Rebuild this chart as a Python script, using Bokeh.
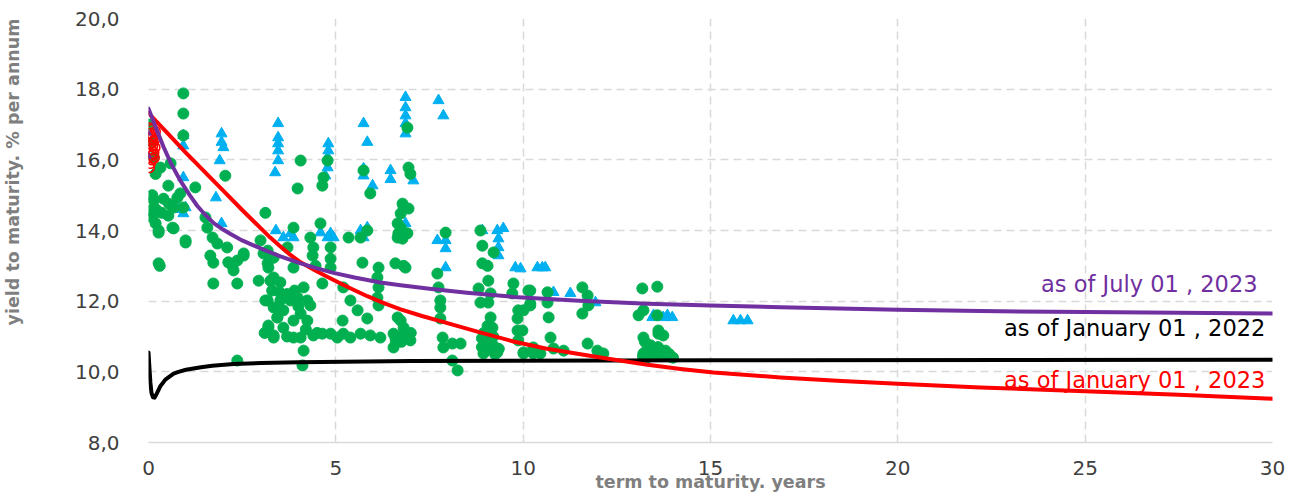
from bokeh.plotting import figure
from bokeh.models import Label, CustomJSTickFormatter, FixedTicker, Range1d, Title
from bokeh.embed import file_html
from bokeh.resources import INLINE

# ---------------- data ----------------
green_x = [0.93, 0.93, 0.93, 0.05, 0.1, 0.14, 0.32, 0.19, 0.59, 0.53, 1.25, 2.05,
           0.1, 0.14, 0.05, 0.1, 0.19, 0.27, 0.77, 0.67, 0.53, 0.64, 0.93, 0.85,
           0.99, 0.27, 0.3, 1.52, 1.57, 1.71, 1.84, 1.65, 2.1, 1.73,
           2.24, 2.37, 2.54, 3.12, 2.99, 3.07, 3.2, 3.34,
           0.27, 0.67, 0.99, 1.73, 2.13, 2.27, 2.37, 2.54,
           2.94, 3.26, 3.12, 3.34, 3.44, 3.2, 3.34, 2.37,
           4.06, 3.98, 4.78, 4.67, 4.64, 5.74, 5.92,
           3.87, 4.59, 4.32, 4.4, 4.38, 4.86, 4.86, 4.86, 4.64, 4.46,
           3.18, 3.18, 3.34, 3.71, 3.87, 3.26, 3.52, 3.18, 4.14,
           3.52, 3.79, 3.98, 4.24, 4.32, 3.6, 3.44, 4.06, 3.87, 4.24, 3.6, 3.2, 3.34, 3.87,
           4.06, 4.4, 4.64, 4.86, 5.04, 5.2, 5.39, 5.66, 5.92, 6.19, 6.54, 6.81,
           4.14, 4.11, 5.18, 5.39, 5.58, 5.84, 5.2,
           5.34, 5.66, 5.84, 5.71,
           6.14, 6.11, 6.14, 6.11, 6.14,
           6.59, 6.81, 6.65, 6.73, 6.81, 6.73, 6.91, 6.65, 6.81,
           6.94, 6.99, 6.78, 6.94, 6.65, 6.67, 6.91, 6.78, 6.86,
           6.73, 6.81, 6.59, 6.99, 6.54, 6.6, 6.75, 6.95, 7.0,
           7.93, 7.71, 7.74, 7.79, 7.79, 7.79, 7.85, 7.87, 8.11, 8.33, 8.11, 8.25,
           8.86, 8.91, 9.21, 8.91, 9.05, 9.07, 8.81, 9.13, 9.07, 8.86, 9.13, 9.18, 9.05, 9.13, 8.94, 9.31,
           8.9, 9.0, 9.2, 9.1, 8.95, 9.25, 9.35,
           9.74, 9.71, 10.19, 10.19, 9.87, 9.85, 9.85, 9.87, 10.01, 10.27,
           10.14, 10.19, 10.65, 10.65, 10.68, 10.73, 10.01, 9.98,
           10.01, 10.27, 10.46, 10.81, 11.08,
           11.58, 11.72, 11.74, 11.58, 11.72, 11.98, 12.14,
           13.18, 13.58, 13.08, 13.21, 13.58, 13.21, 13.61, 13.74, 13.34, 13.66, 13.85, 13.48, 13.21,
           13.21, 13.74, 14.0, 13.61,
           13.2, 13.3, 13.45, 13.55, 13.7, 13.85, 13.95, 13.4, 13.6, 13.25,
           3.3, 3.5, 3.7, 3.9, 4.0, 3.7, 4.5, 3.1, 4.2,
           0.2, 0.35, 0.4, 0.55,
           13.3, 13.5, 13.8, 13.9,
           9.0, 9.2, 9.05, 8.9]
green_y = [17.88, 17.31, 16.69, 17.0, 16.5, 16.07, 15.78, 15.6, 15.9, 15.27, 15.22, 15.55,
           15.0, 14.85, 14.57, 14.37, 14.2, 14.0, 14.93, 14.65, 14.42, 14.08, 14.65, 15.05,
           13.66, 13.07, 13.0, 14.37, 14.08, 13.8, 13.63, 13.29, 13.52, 13.09,
           13.0, 13.15, 13.29, 14.5, 13.72, 13.35, 12.95, 12.67,
           13.94, 14.06, 13.72, 12.5, 13.1, 12.87, 12.5, 13.35,
           12.58, 12.58, 12.02, 11.82, 11.54, 11.31, 11.03, 10.32,
           15.98, 15.19, 15.98, 15.5, 15.27, 15.7, 15.05,
           14.08, 14.2, 13.8, 13.52, 13.29, 13.52, 13.2, 12.95, 12.5, 13.0,
           13.43, 13.07, 13.23, 13.52, 12.95, 12.58, 12.53, 12.02, 12.39,
           12.02, 12.02, 12.1, 12.02, 11.88, 11.74, 11.54, 11.65, 11.45, 11.45, 11.25, 11.25, 10.97, 10.97,
           10.97, 11.03, 11.08, 11.08, 10.97, 11.08, 10.97, 11.08, 11.03, 10.97, 11.08, 10.97,
           10.6, 10.18, 11.45, 12.02, 11.74, 11.51, 12.39,
           13.8, 13.8, 14.0, 13.09,
           12.95, 12.67, 12.39, 12.1, 11.88,
           13.07, 13.0, 13.8, 14.08, 14.65, 14.48, 16.91, 11.54, 11.25,
           15.78, 15.6, 14.76, 14.62, 14.2, 13.92, 13.92, 13.77, 12.95,
           11.45, 11.08, 10.97, 10.89, 10.69, 10.85, 10.85, 10.95, 11.1,
           13.94, 12.78, 12.39, 12.02, 11.82, 11.51, 10.97, 10.69, 10.8, 10.8, 10.32, 10.04,
           14.0, 13.57, 13.38, 13.07, 13.0, 12.58, 12.36, 12.22, 11.96, 11.96, 11.54, 11.25, 10.97, 10.69, 10.52, 10.55,
           10.7, 10.6, 10.75, 10.9, 11.1, 10.5, 10.65,
           12.5, 12.22, 12.3, 11.93, 11.74, 11.51, 11.17, 10.89, 10.55, 10.52,
           12.3, 11.88, 12.25, 11.96, 11.54, 10.97, 11.74, 11.17,
           10.52, 10.69, 10.52, 10.66, 10.6,
           12.39, 12.16, 11.88, 11.65, 10.8, 10.6, 10.52,
           12.36, 12.41, 11.6, 11.74, 11.6, 10.97, 11.08, 11.03, 10.69, 10.6, 10.52, 10.46, 10.52,
           10.4, 10.52, 10.4, 11.17,
           10.45, 10.6, 10.55, 10.45, 10.5, 10.45, 10.42, 10.75, 10.7, 10.85,
           12.3, 12.25, 12.2, 12.3, 11.85, 11.0, 11.1, 11.1, 11.2,
           14.6, 14.5, 14.9, 14.75,
           10.4, 10.65, 10.6, 10.5,
           10.8, 11.0, 11.3, 10.95]

blue_x = [0.93, 0.93, 0.93, 0.99, 0.93, 0.8,
          1.95, 1.95, 2.0, 1.9, 1.8, 1.95,
          3.46, 3.46, 3.46, 3.46, 3.46, 3.38,
          3.4, 3.79, 3.87, 3.6,
          4.8, 4.8, 4.78, 4.78, 4.72,
          4.86, 4.78, 4.94, 4.59,
          5.74, 5.84, 5.74, 5.74, 5.98,
          6.46, 6.46, 7.07, 6.86,
          5.66, 5.84, 5.74,
          6.86, 6.86, 6.86, 6.86, 6.86,
          7.74, 7.87,
          7.71, 7.93, 7.93, 7.93,
          8.91, 9.31, 9.47, 9.34, 9.34, 9.34,
          9.79, 10.38, 10.51, 10.59, 9.93,
          10.81, 11.26, 11.93,
          13.48, 13.85, 13.45, 13.74, 13.98,
          15.61, 15.8, 15.99]
blue_y = [16.69, 16.4, 15.5, 14.65, 14.48, 14.6,
          16.74, 16.5, 16.35, 15.98, 14.93, 14.2,
          17.03, 16.63, 16.46, 16.26, 15.98, 15.64,
          14.0, 13.92, 13.8, 13.8,
          16.46, 16.26, 16.07, 15.78, 15.55,
          13.92, 13.8, 13.8, 13.94,
          17.03, 16.5, 15.75, 15.55, 15.27,
          15.7, 15.45, 15.41, 14.2,
          14.0, 14.08, 13.8,
          17.77, 17.48, 17.25, 17.03, 16.74,
          17.68, 17.25,
          13.72, 13.72, 13.49, 12.95,
          14.0, 14.0, 14.06, 13.77, 13.52, 13.29,
          12.95, 12.95, 12.95, 12.95, 12.92,
          12.25, 12.22, 11.96,
          11.6, 11.6, 11.54, 11.54, 11.54,
          11.45, 11.45, 11.45]

red_pts_x = [0.03, 0.05, 0.08, 0.1, 0.12, 0.15, 0.18, 0.04, 0.07, 0.11, 0.14, 0.17,
             0.06, 0.09, 0.13, 0.05, 0.1, 0.15, 0.08, 0.02]
red_pts_y = [16.9, 16.75, 16.85, 16.6, 16.7, 16.55, 16.8, 16.45, 16.3, 16.4, 16.2, 16.35,
             16.1, 16.0, 16.15, 15.9, 16.5, 16.05, 16.65, 15.78]

purple_pts_x = [0.0, 0.0]
purple_pts_y = [16.75, 16.1]

jul2023_x = [0, 0.2, 0.4, 0.6, 0.85, 1.1, 1.3, 1.5, 1.74, 2.0, 2.19, 2.5, 2.8, 3.07, 3.52,
             4.06, 4.5, 4.94, 5.5, 6.19, 6.73, 7.5, 8.5, 9.74, 11.5, 13.32, 15.0, 16.87,
             20.0, 22.2, 25.0, 30.0]
jul2023_y = [17.45, 16.9, 16.37, 15.9, 15.41, 15.0, 14.7, 14.46, 14.21, 14.02, 13.9, 13.72,
             13.58, 13.46, 13.27, 13.07, 12.93, 12.8, 12.67, 12.53, 12.45, 12.35, 12.24, 12.12,
             12.01, 11.93, 11.88, 11.83, 11.76, 11.72, 11.69, 11.65]

jan2023_x = [0, 0.5, 1.0, 1.5, 2.0, 2.5, 3.0, 3.25, 3.52, 3.75, 4.06, 4.5, 4.94, 5.4, 5.84,
             6.3, 6.73, 7.3, 8.0, 8.8, 9.74, 10.6, 11.53, 12.4, 13.32, 14.2, 15.08, 16.87,
             18.5, 20.0, 22.2, 25.0, 27.5, 30.0]
jan2023_y = [17.32, 16.76, 16.2, 15.66, 15.12, 14.58, 14.06, 13.8, 13.55, 13.34, 13.1, 12.84,
             12.6, 12.36, 12.14, 11.94, 11.77, 11.58, 11.37, 11.13, 10.86, 10.66, 10.5, 10.35,
             10.2, 10.08, 9.98, 9.84, 9.74, 9.66, 9.56, 9.45, 9.35, 9.24]

jan2022_x = [0, 0.02, 0.05, 0.08, 0.12, 0.16, 0.22, 0.32, 0.45, 0.67, 0.8, 1.0, 1.4, 1.7,
             2.27, 3.0, 4.0, 7.0, 15.0, 30.0]
jan2022_y = [10.55, 10.2, 9.7, 9.4, 9.28, 9.27, 9.38, 9.6, 9.78, 9.95, 10.0, 10.06, 10.13,
             10.17, 10.22, 10.25, 10.27, 10.31, 10.33, 10.34]

x_ticks = [0, 5, 10, 15, 20, 25, 30]
y_ticks = [8, 10, 12, 14, 16, 18, 20]

label_jul2023 = "as of July 01 , 2023"
label_jan2022 = "as of January 01 , 2022"
label_jan2023 = "as of January 01 , 2023"
x_title = "term to maturity. years"
y_title = "yield to maturity. % per annum"

# ---------------- figure ----------------
FONT = "DejaVu Sans"
p = figure(width=1296, height=496, output_backend="svg", toolbar_location=None,
           x_range=Range1d(0, 30), y_range=Range1d(8, 20),
           min_border_left=148, min_border_right=24, min_border_top=18, min_border_bottom=54)
p.outline_line_color = None
p.background_fill_color = "white"
p.border_fill_color = "white"

for ax in (p.xaxis[0], p.yaxis[0]):
    ax.major_tick_line_color = None
    ax.minor_tick_line_color = None
    ax.major_label_text_font = FONT
    ax.major_label_text_font_size = "20px"
    ax.major_label_text_color = "#404040"
p.xaxis[0].ticker = FixedTicker(ticks=x_ticks)
p.yaxis[0].ticker = FixedTicker(ticks=y_ticks)
p.yaxis[0].formatter = CustomJSTickFormatter(code="return tick.toFixed(1).replace('.', ',');")
p.yaxis[0].axis_line_color = None
p.xaxis[0].axis_line_color = "#d9d9d9"
p.xaxis[0].axis_line_width = 1.5
p.yaxis[0].major_label_standoff = 23
p.xaxis[0].major_label_standoff = 12

p.xaxis[0].axis_label = x_title
p.xaxis[0].axis_label_text_font = FONT
p.xaxis[0].axis_label_text_font_style = "bold"
p.xaxis[0].axis_label_text_font_size = "17.5px"
p.xaxis[0].axis_label_text_color = "#7f7f7f"
p.xaxis[0].axis_label_standoff = -6

for g in (p.xgrid[0], p.ygrid[0]):
    g.grid_line_color = "#d9d9d9"
    g.grid_line_dash = "8 5"
    g.grid_line_width = 1.5
p.xgrid[0].ticker = FixedTicker(ticks=x_ticks)
p.ygrid[0].ticker = FixedTicker(ticks=y_ticks)

# spacer + vertical title on the left, top-aligned with the frame
p.add_layout(Title(text=" ", text_font_size="10px", standoff=36), "left")
p.add_layout(Title(text=y_title, align="right", offset=0, standoff=0, text_font=FONT,
                   text_font_style="bold", text_font_size="17.5px", text_color="#7f7f7f"), "left")

p.scatter(blue_x, blue_y, marker="triangle", size=11, fill_color="#00b0f0", line_color="#00b0f0")
p.scatter(green_x, green_y, marker="circle", size=11, fill_color="#00b050", line_color="#00b050")
p.scatter(red_pts_x, red_pts_y, marker="circle", size=10, fill_color=None, line_color="#ff0000", line_width=1.5)
p.scatter(purple_pts_x, purple_pts_y, marker="triangle", size=6, fill_color="#7030a0", line_color="#7030a0")

p.line(jan2022_x, jan2022_y, line_color="#000000", line_width=4, line_cap="round", line_join="round")
p.line(jan2023_x, jan2023_y, line_color="#ff0000", line_width=4, line_cap="round", line_join="round")
p.line(jul2023_x, jul2023_y, line_color="#7030a0", line_width=4, line_cap="round", line_join="round")

p.add_layout(Label(x=29.6, y=12.5, text=label_jul2023, text_align="right", text_baseline="middle",
                   text_font=FONT, text_font_size="22.5px", text_color="#7030a0"))
p.add_layout(Label(x=29.81, y=11.23, text=label_jan2022, text_align="right", text_baseline="middle",
                   text_font=FONT, text_font_size="22.5px", text_color="#000000"))
p.add_layout(Label(x=29.81, y=9.755, text=label_jan2023, text_align="right", text_baseline="middle",
                   text_font=FONT, text_font_size="22.5px", text_color="#ff0000"))

open("out.html", "w").write(file_html(p, INLINE))
